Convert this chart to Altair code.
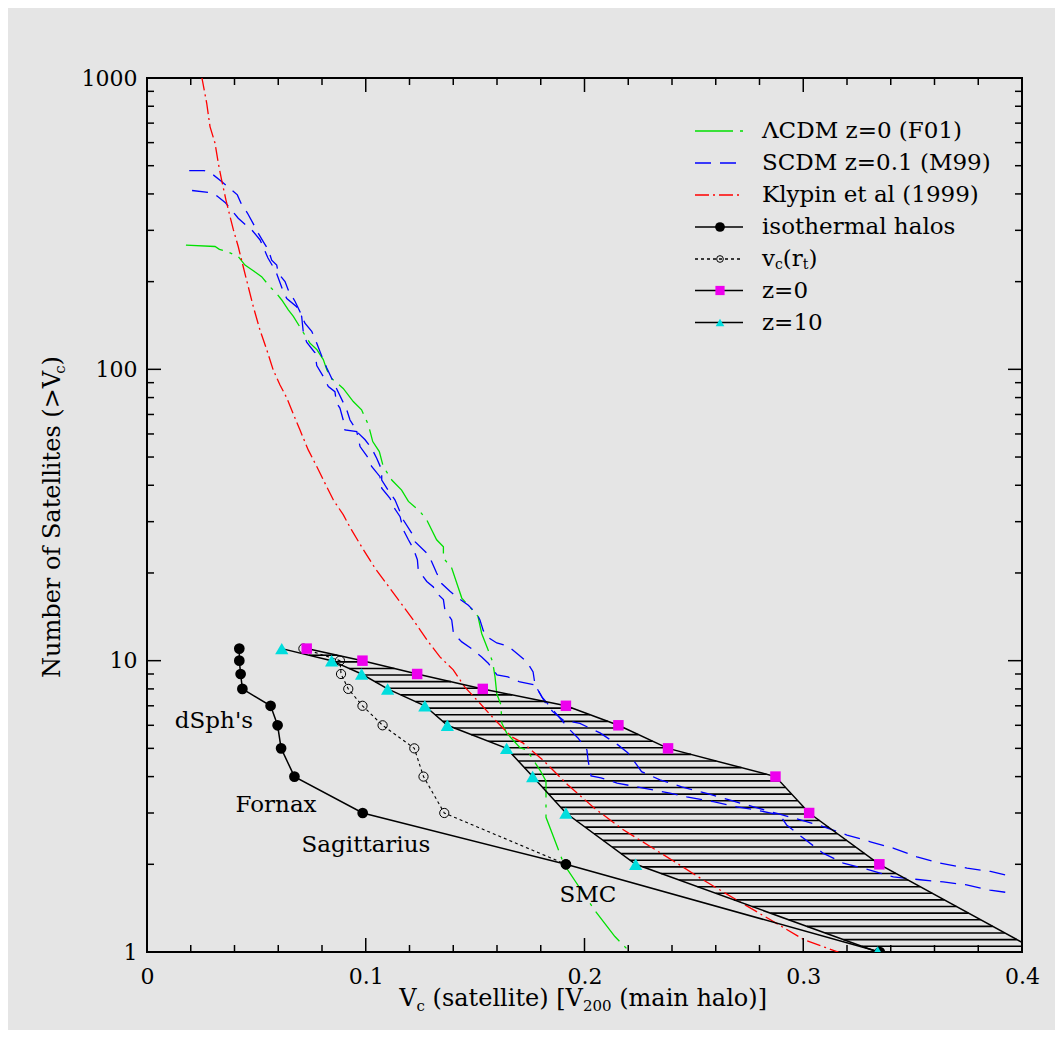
import altair as alt
import pandas as pd
import numpy as np

# ---------------- data ----------------
# Lambda-CDM z=0 (F01), green
lcdm_x = [0.0178,0.0311,0.0331,0.0364,0.0417,0.0448,0.0486,0.0524,0.0562,0.0593,0.0616,0.0646,0.0669,0.0722,
          0.0745,0.0776,0.0806,0.0822,0.0844,0.0897,0.0943,0.0981,0.1012,0.1032,0.1062,0.1080,0.1119,0.1164,
          0.1195,0.1248,0.1279,0.1324,0.1355,0.1355,0.1393,0.1422,0.1439,0.1513,0.1530,0.1559,0.1580,0.1591,
          0.1599,0.1618,0.1622,0.1644,0.1705,0.1736,0.1799,0.1824,0.1824,0.1845,0.1906,0.2047,0.2139,0.2208]
lcdm_n = [267,264,258,254,244,228,218,208,192,182,173,160,152,131,
          123,117,108,99.6,93,86,77.5,72.6,64.5,56.5,52.2,46.4,41.7,38.5,
          35.2,32.5,30.4,26,24.6,22.5,20.8,17.9,16.4,14.2,12.4,10.9,9.9,8.8,
          7.7,7.05,6.1,5.65,5.03,4.94,4.18,3.86,2.9,2.64,2.0,1.39,1.13,1.0]

# SCDM z=0.1 (M99), blue, two realisations
scdm_a_x = [0.0193,0.0262,0.0303,0.0341,0.0379,0.0413,0.0433,0.0459,0.0483,0.0509,0.0532,0.0555,0.0570,0.0593,
            0.0600,0.0631,0.0646,0.0677,0.0699,0.0722,0.0753,0.0776,0.0799,0.0822,0.0844,0.0913,0.0928,0.0966,
            0.0997,0.1027,0.1050,0.1073,0.1073,0.1111,0.1134,0.1172,0.1210,0.1225,0.1279,0.1301,0.1324,0.1347,
            0.1385,0.1423,0.1469,0.1507,0.1522,0.1537,0.1553,0.1599,0.1652,0.1697,0.1737,0.1765,0.1774,0.1819,
            0.1856,0.1902,0.1979,0.2071,0.2153,0.2199,0.2239,0.2261,0.2345,0.2444,0.2559,0.2666,0.2773,0.2880,
            0.2987,0.3094,0.3200,0.3307,0.3414,0.3520,0.3625,0.3749,0.3856,0.3960]
scdm_a_n = [481,481,465,441,418,397,367,344,319,293,274,257,237,228,
            214,200,187,171,158,144,135,123,111,101,93.2,72.6,67,60.4,
            57.3,53.6,49.5,45.2,41.7,37.6,35.6,30.4,27.4,25.6,23.4,21.9,20,18.4,
            17.3,16.4,15.5,14.5,13.8,12.7,12.1,11.5,11.2,10.5,9.9,9.15,8.25,7.2,
            6.67,6.26,6.09,5.65,5.14,4.82,4.39,4.16,3.9,3.69,3.5,3.32,3.15,2.99,
            2.84,2.69,2.52,2.39,2.27,2.12,2.02,1.94,1.89,1.81]
scdm_b_x = [0.0206,0.0280,0.0319,0.0357,0.0387,0.0417,0.0456,0.0479,0.0517,0.0553,0.0590,0.0623,0.0639,0.0684,
            0.0707,0.0715,0.0730,0.0768,0.0776,0.0806,0.0829,0.0859,0.0867,0.0882,0.0897,0.0905,0.0959,0.0974,
            0.1007,0.1027,0.1065,0.1073,0.1111,0.1126,0.1157,0.1172,0.1195,0.1217,0.1236,0.1240,0.1279,0.1309,
            0.1317,0.1355,0.1362,0.1393,0.1401,0.1439,0.1484,0.1530,0.1560,0.1600,0.1650,0.1705,0.1774,0.1806,
            0.1934,0.1970,0.2011,0.2016,0.2030,0.2075,0.2149,0.2263,0.2391,0.2467,0.2589,0.2696,0.2787,0.2894,
            0.2924,0.3000,0.3092,0.3183,0.3305,0.3412,0.3534,0.3640,0.3747,0.3854,0.3960]
scdm_b_n = [411,405,394,374,352,330,311,301,278,241,216,185,175,164,
            152,133,124,114,103,94.4,87.3,83.8,76.5,73.6,67,62,61.1,54.3,
            50.2,46.4,42.8,39.1,36.1,33.8,31.2,28.1,26,24.3,22.2,20.5,18.7,17.9,
            17.3,16.2,14.9,13.8,12.4,11.6,11.0,10.3,9.8,8.93,8.79,8.45,8.25,7.5,
            5.78,5.43,4.94,4.56,4.02,3.96,3.80,3.66,3.51,3.41,3.28,3.15,3.07,2.95,
            2.73,2.46,2.18,2.02,1.91,1.81,1.77,1.74,1.70,1.63,1.59]

# Klypin et al (1999), red
klypin_x = [0.0250,0.0273,0.0288,0.0311,0.0326,0.0341,0.0361,0.0376,0.0395,0.0417,0.0440,0.0463,0.0486,0.0517,
            0.0547,0.0577,0.0608,0.0639,0.0661,0.0699,0.0737,0.0776,0.0814,0.0852,0.0897,0.0935,0.0981,0.1042,
            0.1157,0.1217,0.1279,0.1339,0.1400,0.1454,0.1522,0.1591,0.1667,0.1720,0.1815,0.1923,0.2047,0.2170,
            0.2293,0.2417,0.2541,0.2695,0.2850,0.3005,0.3159,0.3180]
klypin_n = [1011,819,681,597,510,447,381,343,301,264,225,192,164,136,
            117,99.5,88.4,79.8,72.6,62,52.9,46.4,40.6,35.6,31.7,28.1,24.6,20.8,
            15.9,13.8,11.8,10.3,9.3,8.1,7.14,6.26,5.48,5.21,4.52,3.75,3.11,2.65,
            2.32,2.03,1.77,1.51,1.29,1.10,1.0,0.946]

# isothermal halos (observed satellites)
iso_x = [0.0422,0.0422,0.0428,0.0436,0.0565,0.0597,0.0613,0.0674,0.0986,0.1915,0.3350]
iso_n = [11,10,9,8,7,6,5,4,3,2,1]

# v_c(r_t)
vrt_x = [0.0715,0.0882,0.0887,0.0920,0.0985,0.1077,0.1222,0.1264,0.1359,0.1915]
vrt_n = [11,10,9,8,7,6,5,4,3,2]

# z=0 and z=10
z0_x = [0.0730,0.0985,0.1235,0.1535,0.1915,0.2155,0.2382,0.2873,0.3027,0.3348,0.4080]
z0_n = [11,10,9,8,7,6,5,4,3,2,1]
z10_x = [0.0616,0.0844,0.0981,0.1100,0.1270,0.1373,0.1644,0.1763,0.1915,0.2234,0.3340]
z10_n = [11,10,9,8,7,6,5,4,3,2,1]

# annotations
ann_text = ["dSph's", "Fornax", "Sagittarius", "SMC"]
ann_x = [0.0306, 0.0590, 0.1001, 0.2016]
ann_n = [6.21, 3.2, 2.33, 1.57]

# axis tick labels
x_labels = [0, 0.1, 0.2, 0.3, 0.4]
y_labels = [1, 10, 100, 1000]

# ---------------- styling ----------------
W, H = 875, 874
FONT = "DejaVu Serif"
BG = "#e5e5e5"
GREEN, BLUE, RED = "#00e000", "#0000ff", "#ff0000"
MAGENTA, CYAN = "#ee00ee", "#00dddd"

XS = alt.Scale(domain=[0, 0.4], nice=False, zero=False)
YS = alt.Scale(type="log", domain=[1, 1000], nice=False)
x_axis = alt.Axis(values=x_labels, format="~g", title="", ticks=False, domain=False, grid=False,
                  labelFont=FONT, labelFontSize=22, labelColor="black", labelPadding=14, labelFlush=False)
y_axis = alt.Axis(values=y_labels, format="d", title="", ticks=False, domain=False, grid=False,
                  labelFont=FONT, labelFontSize=22, labelColor="black", labelPadding=10)


def X(f="x"):
    return alt.X(f"{f}:Q", scale=XS, axis=x_axis)


def Y(f="n"):
    return alt.Y(f"{f}:Q", scale=YS, axis=y_axis)


def line_layer(xs, ns, color, dash=None, width=1.3):
    df = pd.DataFrame({"x": xs, "n": ns, "i": list(range(len(xs)))})
    kw = dict(color=color, strokeWidth=width, clip=True)
    if dash:
        kw["strokeDash"] = dash
    return alt.Chart(df).mark_line(**kw).encode(x=X(), y=Y(), order="i:Q")


def point_layer(xs, ns, shape, size, fill=None, stroke=None, sw=1.0):
    df = pd.DataFrame({"x": xs, "n": ns})
    kw = dict(shape=shape, size=size, clip=True, opacity=1)
    if fill:
        kw.update(filled=True, fill=fill, fillOpacity=1)
    else:
        kw.update(filled=False, fillOpacity=0)
    if stroke:
        kw.update(stroke=stroke, strokeWidth=sw, strokeOpacity=1)
    else:
        kw.update(strokeWidth=0)
    return alt.Chart(df).mark_point(**kw).encode(x=X(), y=Y())


layers = []

# hatching between the z=0 and z=10 curves (horizontal lines, constant pixel spacing)
HATCH_DEX = 0.0227
levels = np.log10(11) - HATCH_DEX * np.arange(1, 200)
levels = levels[levels > 0.002]
lz10 = np.log10(np.array(z10_n, float))[::-1]
lz0 = np.log10(np.array(z0_n, float))[::-1]
left = np.interp(levels, lz10, np.array(z10_x)[::-1])
right = np.minimum(np.interp(levels, lz0, np.array(z0_x)[::-1]), 0.4)
hdf = pd.DataFrame({"x1": left, "x2": right, "n": 10 ** levels})
layers.append(alt.Chart(hdf).mark_rule(color="black", strokeWidth=1.6, clip=True)
              .encode(x=X("x1"), x2="x2:Q", y=Y()))

# model curves
layers.append(line_layer(lcdm_x, lcdm_n, GREEN, [38, 7, 3, 7], 1.3))
layers.append(line_layer(scdm_a_x, scdm_a_n, BLUE, [16, 9], 1.3))
layers.append(line_layer(scdm_b_x, scdm_b_n, BLUE, [16, 9], 1.3))
layers.append(line_layer(klypin_x, klypin_n, RED, [14, 4, 2, 4], 1.3))

# observed / derived curves
layers.append(line_layer(vrt_x, vrt_n, "black", [3, 3], 1.1))
layers.append(line_layer(z0_x, z0_n, "black", None, 1.5))
layers.append(line_layer(z10_x, z10_n, "black", None, 1.5))
layers.append(line_layer(iso_x, iso_n, "black", None, 1.5))
layers.append(point_layer(vrt_x, vrt_n, "circle", 85, None, "black", 1.0))
layers.append(point_layer(iso_x, iso_n, "circle", 115, "black"))
layers.append(point_layer(z0_x, z0_n, "square", 110, MAGENTA))
layers.append(point_layer(z10_x, z10_n, "triangle-up", 175, CYAN))

# annotations
adf = pd.DataFrame({"x": ann_x, "n": ann_n, "t": ann_text})
layers.append(alt.Chart(adf).mark_text(font=FONT, fontSize=23, color="black", align="center",
                                       baseline="middle").encode(x=X(), y=Y(), text="t:N"))

# inward ticks on all four sides
x_major = [0, 0.1, 0.2, 0.3, 0.4]
x_minor = [round(v, 2) for v in np.arange(0, 0.4001, 0.02) if round(v * 10, 6) % 1 != 0]
y_major = [1, 10, 100, 1000]
y_minor = [m * 10 ** k for k in range(3) for m in range(2, 10)]
MAJ, MIN = 14, 7
for vals, L in ((x_major, MAJ), (x_minor, MIN)):
    d = pd.DataFrame({"v": vals})
    layers.append(alt.Chart(d).mark_rule(color="black", strokeWidth=1.5)
                  .encode(x=X("v"), y=alt.value(H), y2=alt.value(H - L)))
    layers.append(alt.Chart(d).mark_rule(color="black", strokeWidth=1.5)
                  .encode(x=X("v"), y=alt.value(0), y2=alt.value(L)))
for vals, L in ((y_major, MAJ), (y_minor, MIN)):
    d = pd.DataFrame({"v": vals})
    layers.append(alt.Chart(d).mark_rule(color="black", strokeWidth=1.5)
                  .encode(y=Y("v"), x=alt.value(0), x2=alt.value(L)))
    layers.append(alt.Chart(d).mark_rule(color="black", strokeWidth=1.5)
                  .encode(y=Y("v"), x=alt.value(W), x2=alt.value(W - L)))

# ---------------- text helpers (titles with subscripts, legend) ----------------
CW = {' ': 0.318, '(': 0.390, ')': 0.390, '[': 0.390, ']': 0.390, '>': 0.838, '0': 0.636, '1': 0.636,
      '2': 0.636, 'N': 0.748, 'S': 0.686, 'V': 0.722, 'a': 0.596, 'b': 0.641, 'c': 0.562, 'e': 0.592,
      'f': 0.371, 'h': 0.640, 'i': 0.320, 'l': 0.320, 'm': 0.950, 'n': 0.640, 'o': 0.602, 'r': 0.478,
      's': 0.513, 't': 0.402, 'u': 0.640, 'v': 0.565}


def tw(s, size):
    return sum(CW.get(c, 0.6) for c in s) * size


ONE = alt.Data(values=[{"k": 1}])


def txt(x, y, s, size, align="left", angle=0, baseline="middle"):
    kw = dict(text=s, font=FONT, fontSize=size, color="black", align=align, baseline=baseline)
    if angle:
        kw["angle"] = angle
    return alt.Chart(ONE).mark_text(**kw).encode(x=alt.value(x), y=alt.value(y))


TS, SS = 24, 15  # title size, subscript size
SP = 0.318 * TS  # a space (SVG drops leading spaces, so gaps are placed by hand)
# x title: V_c (satellite) [V_200 (main halo)]
pieces = [("V", TS, 0, 0), ("c", SS, 7, 0), ("(satellite) [V", TS, 0, SP), ("200", SS, 7, 0),
          ("(main halo)]", TS, 0, SP)]
total = sum(tw(s, z) + g for s, z, _, g in pieces)
cx = 583 - 147 - total / 2
for s, z, dy, g in pieces:
    cx += g
    layers.append(txt(cx, 921 + dy, s, z))
    cx += tw(s, z)

# y title: Number of Satellites (>V_c)
pieces = [("Number of Satellites (>V", TS, 0), ("c", SS, 7), (")", TS, 0)]
total = sum(tw(s, z) for s, z, _ in pieces)
cy = 517 - 78 + total / 2
for s, z, dx in pieces:
    layers.append(txt(-94 + dx, cy, s, z, angle=270))
    cy -= tw(s, z)

# legend
LX0, LX1, MX, TX = 548, 596, 573, 615
rows = [53, 85, 117, 149, 181, 212.5, 244.5]
LS = 23
leg = [
    ("ΛCDM z=0 (F01)", GREEN, [38, 7, 3, 7], None),
    ("SCDM z=0.1 (M99)", BLUE, [16, 9], None),
    ("Klypin et al (1999)", RED, [14, 4, 2, 4], None),
    ("isothermal halos", "black", None, ("circle", 95, "black", None)),
    (None, "black", [3, 3], ("circle", 45, None, "black")),
    ("z=0", "black", None, ("square", 85, MAGENTA, None)),
    ("z=10", "black", None, ("triangle-up", 75, CYAN, None)),
]
for (label, col, dash, mk), ry in zip(leg, rows):
    kw = dict(color=col, strokeWidth=1.4)
    if dash:
        kw["strokeDash"] = dash
    layers.append(alt.Chart(ONE).mark_rule(**kw)
                  .encode(x=alt.value(LX0), x2=alt.value(LX1), y=alt.value(ry)))
    if mk:
        shape, size, fill, stroke = mk
        mkw = dict(shape=shape, size=size, opacity=1)
        if fill:
            mkw.update(filled=True, fill=fill, fillOpacity=1, strokeWidth=0)
        else:
            mkw.update(filled=False, fillOpacity=0, stroke=stroke, strokeWidth=1)
        layers.append(alt.Chart(ONE).mark_point(**mkw).encode(x=alt.value(MX), y=alt.value(ry)))
    if label:
        layers.append(txt(TX, ry, label, LS))
    else:
        # v_c(r_t)
        cx = TX
        for s, z, dy in [("v", LS, 0), ("c", 14, 6), ("(r", LS, 0), ("t", 14, 6), (")", LS, 0)]:
            layers.append(txt(cx, ry + dy, s, z))
            cx += tw(s, z)

chart = alt.layer(*layers).properties(
    width=W, height=H,
    background=BG,
    padding={"left": 139, "top": 70, "right": 33, "bottom": 78},
    autosize=alt.AutoSizeParams(type="none"),
).configure_view(stroke="black", strokeWidth=2)

chart.save("out.html", embed_options={"renderer": "svg", "actions": False})
